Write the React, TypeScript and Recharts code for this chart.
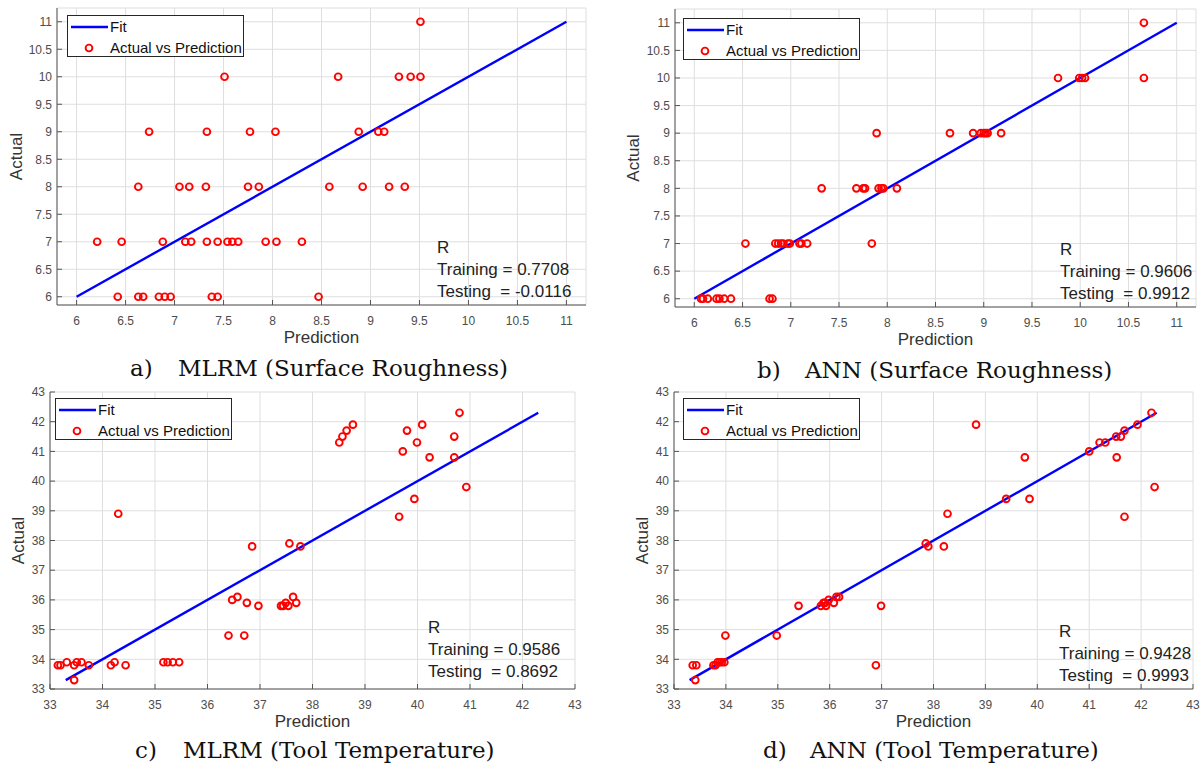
import { ScatterChart, Scatter, XAxis, YAxis, CartesianGrid } from 'recharts'

// [prediction, actual] pairs
const mlrmRoughness: [number, number][] = [
  [9.51, 11],
  [7.51, 10], [8.67, 10], [9.29, 10], [9.41, 10], [9.51, 10],
  [6.74, 9], [7.33, 9], [7.77, 9], [8.03, 9], [8.88, 9], [9.08, 9], [9.14, 9],
  [6.63, 8], [7.05, 8], [7.15, 8], [7.32, 8], [7.75, 8], [7.86, 8], [8.58, 8], [8.92, 8], [9.19, 8], [9.35, 8],
  [6.21, 7], [6.46, 7], [6.88, 7], [7.11, 7], [7.17, 7], [7.33, 7], [7.44, 7], [7.54, 7], [7.59, 7], [7.65, 7], [7.93, 7], [8.04, 7], [8.3, 7],
  [6.42, 6], [6.63, 6], [6.68, 6], [6.84, 6], [6.9, 6], [6.96, 6], [7.38, 6], [7.44, 6], [8.47, 6],
]

const annRoughness: [number, number][] = [
  [10.66, 11],
  [9.77, 10], [9.99, 10], [10.02, 10], [10.05, 10], [10.66, 10],
  [7.89, 9], [8.65, 9], [8.89, 9], [8.97, 9], [9.0, 9], [9.02, 9], [9.04, 9], [9.18, 9],
  [7.32, 8], [7.68, 8], [7.75, 8], [7.77, 8], [7.91, 8], [7.94, 8], [7.96, 8], [8.1, 8],
  [6.53, 7], [6.84, 7], [6.87, 7], [6.9, 7], [6.92, 7], [6.97, 7], [6.99, 7], [7.09, 7], [7.11, 7], [7.17, 7], [7.84, 7],
  [6.07, 6], [6.09, 6], [6.14, 6], [6.23, 6], [6.26, 6], [6.31, 6], [6.38, 6], [6.78, 6], [6.81, 6],
]

const mlrmTemperature: [number, number][] = [
  [34.3, 38.9], [36.85, 37.8], [37.56, 37.9], [37.77, 37.8],
  [36.47, 36.0], [36.57, 36.1], [36.75, 35.9], [36.97, 35.8], [37.4, 35.8], [37.44, 35.8], [37.49, 35.9], [37.54, 35.8], [37.63, 36.1], [37.69, 35.9],
  [36.4, 34.8], [36.7, 34.8],
  [33.15, 33.8], [33.2, 33.8], [33.32, 33.9], [33.46, 33.8], [33.51, 33.9], [33.6, 33.9], [33.74, 33.8], [34.16, 33.8], [34.23, 33.9], [34.44, 33.8],
  [35.16, 33.9], [35.24, 33.9], [35.34, 33.9], [35.46, 33.9], [33.46, 33.3],
  [38.51, 41.3], [38.57, 41.5], [38.65, 41.7], [38.77, 41.9], [39.8, 41.7], [40.09, 41.9], [39.99, 41.3], [39.72, 41.0],
  [40.23, 40.8], [40.7, 41.5], [40.8, 42.3], [40.7, 40.8], [40.93, 39.8], [39.94, 39.4], [39.65, 38.8],
]

const annTemperature: [number, number][] = [
  [33.36, 33.8], [33.43, 33.8], [33.41, 33.3],
  [33.76, 33.8], [33.8, 33.8], [33.84, 33.9], [33.88, 33.9], [33.92, 33.9], [33.97, 33.9],
  [33.99, 34.8], [34.98, 34.8], [35.4, 35.8],
  [35.83, 35.8], [35.88, 35.9], [35.91, 35.9], [35.93, 35.8], [35.98, 36.0], [36.08, 35.9], [36.13, 36.1], [36.18, 36.1],
  [36.99, 35.8], [36.89, 33.8],
  [38.82, 41.9], [39.76, 40.8], [39.4, 39.4], [39.85, 39.4], [38.27, 38.9], [37.85, 37.9], [37.9, 37.8], [38.2, 37.8],
  [41.0, 41.0], [41.2, 41.3], [41.31, 41.3], [41.52, 41.5], [41.61, 41.5], [41.68, 41.7], [41.93, 41.9], [42.2, 42.3],
  [41.53, 40.8], [42.26, 39.8], [41.68, 38.8],
]

const roughnessFit: [number, number][] = [[6, 6], [11, 11]]
const temperatureFit: [number, number][] = [[33.3, 33.3], [42.3, 42.3]]

const roughnessTicks = [6, 6.5, 7, 7.5, 8, 8.5, 9, 9.5, 10, 10.5, 11]
const temperatureTicks = [33, 34, 35, 36, 37, 38, 39, 40, 41, 42, 43]

const SANS = '"Liberation Sans", Arial, Helvetica, sans-serif'
const SERIF = '"DejaVu Serif", "Liberation Serif", serif'

const panels = [
  {
    points: mlrmRoughness, fit: roughnessFit, ticks: roughnessTicks,
    xDomain: [5.8, 11.2], yDomain: [5.85, 11.25],
    box: { l: 57, t: 8, r: 586, b: 305 }, yLabelX: 16,
    legend: { x: 67, y: 15 }, stats: { x: 437, y: 237 },
    r: ['R', 'Training = 0.7708', 'Testing  = -0.0116'],
    tag: 'a)', title: 'MLRM (Surface Roughness)', cap: { x: 130, tx: 178, y: 368 },
  },
  {
    points: annRoughness, fit: roughnessFit, ticks: roughnessTicks,
    xDomain: [5.8, 11.2], yDomain: [5.85, 11.25],
    box: { l: 675, t: 9, r: 1196, b: 307 }, yLabelX: 633,
    legend: { x: 683, y: 18 }, stats: { x: 1060, y: 239 },
    r: ['R', 'Training = 0.9606', 'Testing  = 0.9912'],
    tag: 'b)', title: 'ANN (Surface Roughness)', cap: { x: 757, tx: 805, y: 370 },
  },
  {
    points: mlrmTemperature, fit: temperatureFit, ticks: temperatureTicks,
    xDomain: [33, 43], yDomain: [33, 43],
    box: { l: 50, t: 392, r: 575, b: 689 }, yLabelX: 18,
    legend: { x: 55, y: 398 }, stats: { x: 428, y: 617 },
    r: ['R', 'Training = 0.9586', 'Testing  = 0.8692'],
    tag: 'c)', title: 'MLRM (Tool Temperature)', cap: { x: 135, tx: 183, y: 750 },
  },
  {
    points: annTemperature, fit: temperatureFit, ticks: temperatureTicks,
    xDomain: [33, 43], yDomain: [33, 43],
    box: { l: 674, t: 392, r: 1193, b: 689 }, yLabelX: 642,
    legend: { x: 683, y: 398 }, stats: { x: 1059, y: 621 },
    r: ['R', 'Training = 0.9428', 'Testing  = 0.9993'],
    tag: 'd)', title: 'ANN (Tool Temperature)', cap: { x: 763, tx: 810, y: 750 },
  },
]

const toXY = (pairs: [number, number][]) => pairs.map(([x, y]) => ({ x, y }))

const Ring = (props: any) => (
  <circle cx={props.cx} cy={props.cy} r={3.4} fill="none" stroke="#ff0000" strokeWidth={1.9} />
)

const tickStyle = { fontSize: 12, fill: '#4d4d4d', fontFamily: SANS }
const axisStroke = '#555'

function Panel({ p }: { p: (typeof panels)[number] }) {
  const { box } = p
  const left = box.l - 60
  const top = box.t - 8
  const width = box.r - box.l + 70
  const height = box.b - box.t + 58
  const common = { type: 'number' as const, allowDataOverflow: true, stroke: axisStroke }

  return (
    <>
      <div style={{ position: 'absolute', left, top }}>
        <ScatterChart width={width} height={height} margin={{ top: 8, right: 10, bottom: 0, left: 0 }}>
          <CartesianGrid stroke="#dedede" strokeWidth={1} />
          <XAxis
            {...common} dataKey="x" domain={p.xDomain} ticks={p.ticks} height={50}
            tickSize={-5} tickMargin={16} tick={tickStyle} interval={0}
            label={{ value: 'Prediction', position: 'insideBottom', offset: 12, style: { fontSize: 17, fill: '#333', fontFamily: SANS } }}
          />
          <XAxis {...common} xAxisId="top" orientation="top" dataKey="x" domain={p.xDomain} ticks={p.ticks} height={0} tickSize={-5} tick={false} />
          <YAxis
            {...common} dataKey="y" domain={p.yDomain} ticks={p.ticks} width={60}
            tickSize={-5} tickMargin={10} tick={tickStyle} interval={0}
            label={{ value: 'Actual', angle: -90, position: 'insideLeft', offset: p.yLabelX - left, style: { textAnchor: 'middle', fontSize: 17, fill: '#333', fontFamily: SANS } }}
          />
          <YAxis {...common} yAxisId="right" orientation="right" dataKey="y" domain={p.yDomain} ticks={p.ticks} width={0} tickSize={-5} tick={false} />
          <Scatter data={toXY(p.fit)} line={{ stroke: '#0000ff', strokeWidth: 2.4 }} shape={() => <g />} isAnimationActive={false} />
          <Scatter data={toXY(p.points)} shape={Ring} isAnimationActive={false} />
        </ScatterChart>
      </div>

      <div style={{ position: 'absolute', left: p.legend.x, top: p.legend.y, width: 177, height: 42, boxSizing: 'border-box', border: '1px solid #262626', background: '#fff' }}>
        <svg width={175} height={40} style={{ display: 'block' }}>
          <line x1={3} x2={40} y1={11} y2={11} stroke="#0000ff" strokeWidth={2.4} />
          <text x={42} y={16} fontSize={15} fontFamily={SANS} fill="#111">Fit</text>
          <circle cx={21} cy={32} r={3.4} fill="none" stroke="#ff0000" strokeWidth={1.9} />
          <text x={42} y={37} fontSize={15} fontFamily={SANS} fill="#111">Actual vs Prediction</text>
        </svg>
      </div>

      <div style={{ position: 'absolute', left: p.stats.x, top: p.stats.y, fontFamily: SANS, fontSize: 17, lineHeight: '22px', color: '#222', whiteSpace: 'pre' }}>
        {p.r.map((line) => <div key={line}>{line}</div>)}
      </div>

      <div style={{ position: 'absolute', left: p.cap.x, top: p.cap.y - 15, lineHeight: '30px', fontFamily: SERIF, fontSize: 23, color: '#111', whiteSpace: 'pre' }}>
        {p.tag}
      </div>
      <div style={{ position: 'absolute', left: p.cap.tx, top: p.cap.y - 15, lineHeight: '30px', fontFamily: SERIF, fontSize: 23, color: '#111', whiteSpace: 'pre' }}>
        {p.title}
      </div>
    </>
  )
}

export default function App() {
  return (
    <div style={{ position: 'absolute', left: 0, top: 0, width: 1203, height: 773, background: '#fff', overflow: 'hidden' }}>
      {panels.map((p) => <Panel key={p.tag} p={p} />)}
    </div>
  )
}
